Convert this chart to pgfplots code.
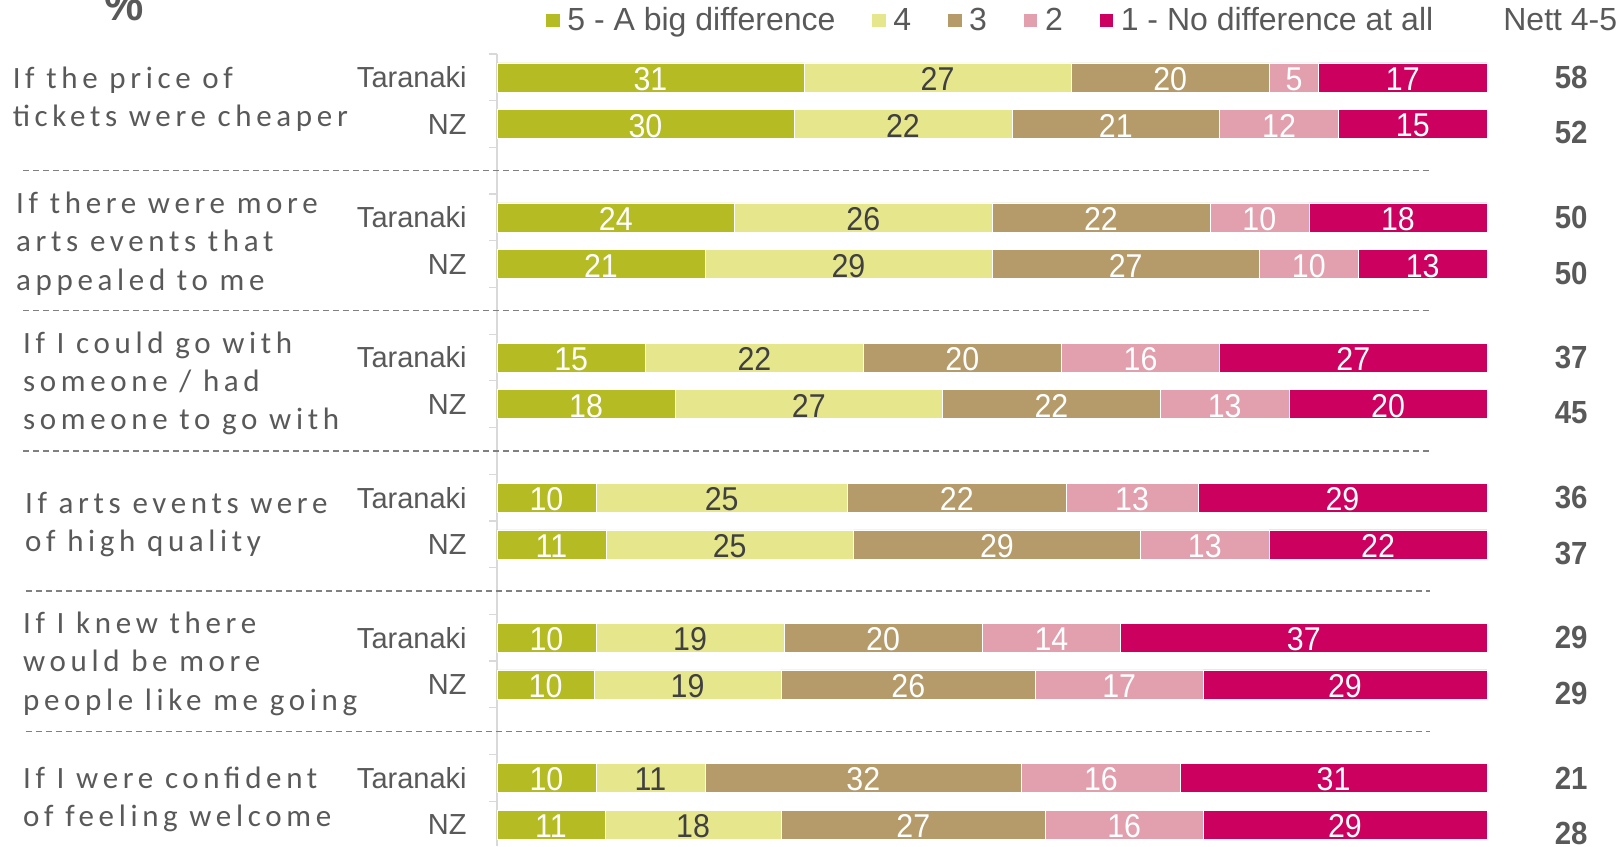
\documentclass[border=0pt]{standalone}
\usepackage{fontspec}
\setmainfont{Liberation Sans}
\newfontfamily\narrowfont[FakeStretch=0.92]{Liberation Sans}
\newfontfamily\catfont[LetterSpace=15]{Carlito}
\usepackage{pgfplots}
\pgfplotsset{compat=1.18}
\usepackage{pgfplotstable}

\definecolor{c5}{HTML}{B4BB23}
\definecolor{c4}{HTML}{E6E68C}
\definecolor{c3}{HTML}{B59A6A}
\definecolor{c2}{HTML}{E2A0AE}
\definecolor{c1}{HTML}{CC005E}
\definecolor{txt}{HTML}{595959}
\definecolor{dtxt}{HTML}{404040}

\pgfplotstableread{
y  v5   v4   v3   v2   v1   l5 l4 l3 l2 l1
0  31   27   20   5    17   31 27 20 5  17
1  30   22   21   12   15   30 22 21 12 15
3  24   26   22   10   18   24 26 22 10 18
4  21   29   27   10   13   21 29 27 10 13
6  15   22   20   16   27   15 22 20 16 27
7  18   27   22   13   20   18 27 22 13 20
9  10   25.4 22.1 13.3 29.2 10 25 22 13 29
10 11   25   29   13   22   11 25 29 13 22
12 10   19   20   14   37   10 19 20 14 37
13 9.8  18.9 25.7 16.9 28.7 10 19 26 17 29
15 10   11   32   16   31   10 11 32 16 31
16 10.9 17.8 26.7 15.9 28.7 11 18 27 16 29
}\bars

\pgfplotstableread{
y     lab
0     58
1.19  52
3     50
4.19  50
6     37
7.19  45
9     36
10.19 37
12    29
13.19 29
15    21
16.19 28
}\nett

\pgfplotstableread{
y  lab
0  Taranaki
1  NZ
3  Taranaki
4  NZ
6  Taranaki
7  NZ
9  Taranaki
10 NZ
12 Taranaki
13 NZ
15 Taranaki
16 NZ
}\grp

\pgfplotsset{
  hidemark/.style={only marks, mark=*, mark options={draw opacity=0, fill opacity=0}},
  lbl/.style={hidemark,
    nodes near coords, point meta=explicit,
    /pgf/number format/assume math mode=true,
    nodes near coords style={anchor=center, inner sep=0pt, text=#1, text opacity=1, yshift=-0.8pt,
      font=\fontsize{16.5pt}{18pt}\narrowfont}},
}

\begin{document}
\begin{tikzpicture}
\begin{axis}[
  name=ax,
  scale only axis,
  width=495pt, height=396pt,
  xbar stacked,
  bar width=14.5pt,
  xmin=0, xmax=100,
  ymin=-0.5, ymax=16.46,
  y dir=reverse,
  hide x axis,
  axis y line*=left,
  y axis line style={draw=black!15, line width=0.6pt},
  ytick={-0.5,0.5,...,16.5},
  yticklabels={},
  tick align=outside,
  major tick length=4pt,
  ytick style={draw=black!15, line width=0.6pt},
  clip=false,
  legend columns=5,
  legend style={at={(0.0485,1)}, anchor=west, yshift=16.7pt, draw=none, fill=none,
    inner sep=0pt, font=\fontsize{16pt}{18pt}\selectfont, text=txt,
    nodes={inner sep=0pt},
    /tikz/every odd column/.append style={column sep=3.5pt},
    /tikz/every even column/.append style={column sep=18pt}},
  legend image code/.code={\fill[#1] (0pt,-3.6pt) rectangle (7.2pt,3.6pt);},
]
\addplot[fill=c5, draw=white, line width=0.3pt] table[x=v5, y=y] {\bars};
\addlegendentry{5 - A big difference}
\addplot[fill=c4, draw=white, line width=0.3pt] table[x=v4, y=y] {\bars};
\addlegendentry{4}
\addplot[fill=c3, draw=white, line width=0.3pt] table[x=v3, y=y] {\bars};
\addlegendentry{3}
\addplot[fill=c2, draw=white, line width=0.3pt] table[x=v2, y=y] {\bars};
\addlegendentry{2}
\addplot[fill=c1, draw=white, line width=0.3pt] table[x=v1, y=y] {\bars};
\addlegendentry{1 - No difference at all}

% separators
\draw[draw=black!50, line width=0.6pt, dash pattern=on 3pt off 2pt] (axis cs:-47.9,2) -- (axis cs:94.2,2);
\draw[draw=black!50, line width=0.6pt, dash pattern=on 3pt off 2pt] (axis cs:-47.9,5) -- (axis cs:94.2,5);
\draw[draw=black!50, line width=0.6pt, dash pattern=on 3pt off 2pt] (axis cs:-47.9,8) -- (axis cs:94.2,8);
\draw[draw=black!50, line width=0.6pt, dash pattern=on 3pt off 2pt] (axis cs:-47.6,11) -- (axis cs:94.2,11);
\draw[draw=black!50, line width=0.6pt, dash pattern=on 3pt off 2pt] (axis cs:-47.6,14) -- (axis cs:94.2,14);
% category labels
\node[anchor=west, align=left, inner sep=0pt, text=txt, font=\fontsize{15.5pt}{19.1pt}\catfont] at (axis cs:-48.95,0.47) {If the price of\\tickets were cheaper};
\node[anchor=west, align=left, inner sep=0pt, text=txt, font=\fontsize{15.5pt}{19.1pt}\catfont] at (axis cs:-48.6,3.56) {If there were more\\arts events that\\appealed to me};
\node[anchor=west, align=left, inner sep=0pt, text=txt, font=\fontsize{15.5pt}{19.1pt}\catfont] at (axis cs:-47.9,6.55) {If I could go with\\someone / had\\someone to go with};
\node[anchor=west, align=left, inner sep=0pt, text=txt, font=\fontsize{15.5pt}{19.1pt}\catfont] at (axis cs:-47.7,9.57) {If arts events were\\of high quality};
\node[anchor=west, align=left, inner sep=0pt, text=txt, font=\fontsize{15.5pt}{19.1pt}\catfont] at (axis cs:-47.9,12.56) {If I knew there\\would be more\\people like me going};
\node[anchor=west, align=left, inner sep=0pt, text=txt, font=\fontsize{15.5pt}{19.1pt}\catfont] at (axis cs:-47.9,15.46) {If I were confident\\of feeling welcome};
\node[text=txt, inner sep=0pt, anchor=center, font=\fontsize{16pt}{18pt}\selectfont] at (axis cs:107.4,-0.5) [yshift=17.2pt] {Nett 4-5};
\node[text=txt, inner sep=0pt, anchor=base, font=\fontsize{24pt}{26pt}\narrowfont\bfseries] at (axis cs:-37.7,-0.5) [yshift=16.5pt] {\%};
\end{axis}

\begin{axis}[
  at={(ax.south west)}, anchor=south west,
  scale only axis, width=495pt, height=396pt,
  xmin=0, xmax=100, ymin=-0.5, ymax=16.46, y dir=reverse,
  hide axis, clip=false,
]
\addplot[lbl=white] table[x expr={\thisrow{v5}/2}, y=y, meta=l5] {\bars};
\addplot[lbl=dtxt] table[x expr={\thisrow{v5}+\thisrow{v4}/2}, y=y, meta=l4] {\bars};
\addplot[lbl=white] table[x expr={\thisrow{v5}+\thisrow{v4}+\thisrow{v3}/2}, y=y, meta=l3] {\bars};
\addplot[lbl=white] table[x expr={\thisrow{v5}+\thisrow{v4}+\thisrow{v3}+\thisrow{v2}/2}, y=y, meta=l2] {\bars};
\addplot[lbl=white] table[x expr={\thisrow{v5}+\thisrow{v4}+\thisrow{v3}+\thisrow{v2}+\thisrow{v1}/2}, y=y, meta=l1] {\bars};
\addplot[hidemark,
  nodes near coords, point meta=explicit symbolic,
  nodes near coords style={anchor=east, inner sep=0pt, text=txt, text opacity=1, font=\fontsize{14.5pt}{16pt}\selectfont}]
  table[x expr=-3.03, y=y, meta=lab] {\grp};
\addplot[hidemark,
  nodes near coords, point meta=explicit symbolic,
  nodes near coords style={anchor=center, inner sep=0pt, text=txt, text opacity=1, font=\fontsize{16pt}{18pt}\narrowfont\bfseries}]
  table[x expr=108.5, y=y, meta=lab] {\nett};
\end{axis}

\pgfresetboundingbox
\path[use as bounding box] ([xshift=-248.5pt,yshift=27pt]ax.north west) rectangle ++(810.5pt,-423pt);
\end{tikzpicture}
\end{document}
